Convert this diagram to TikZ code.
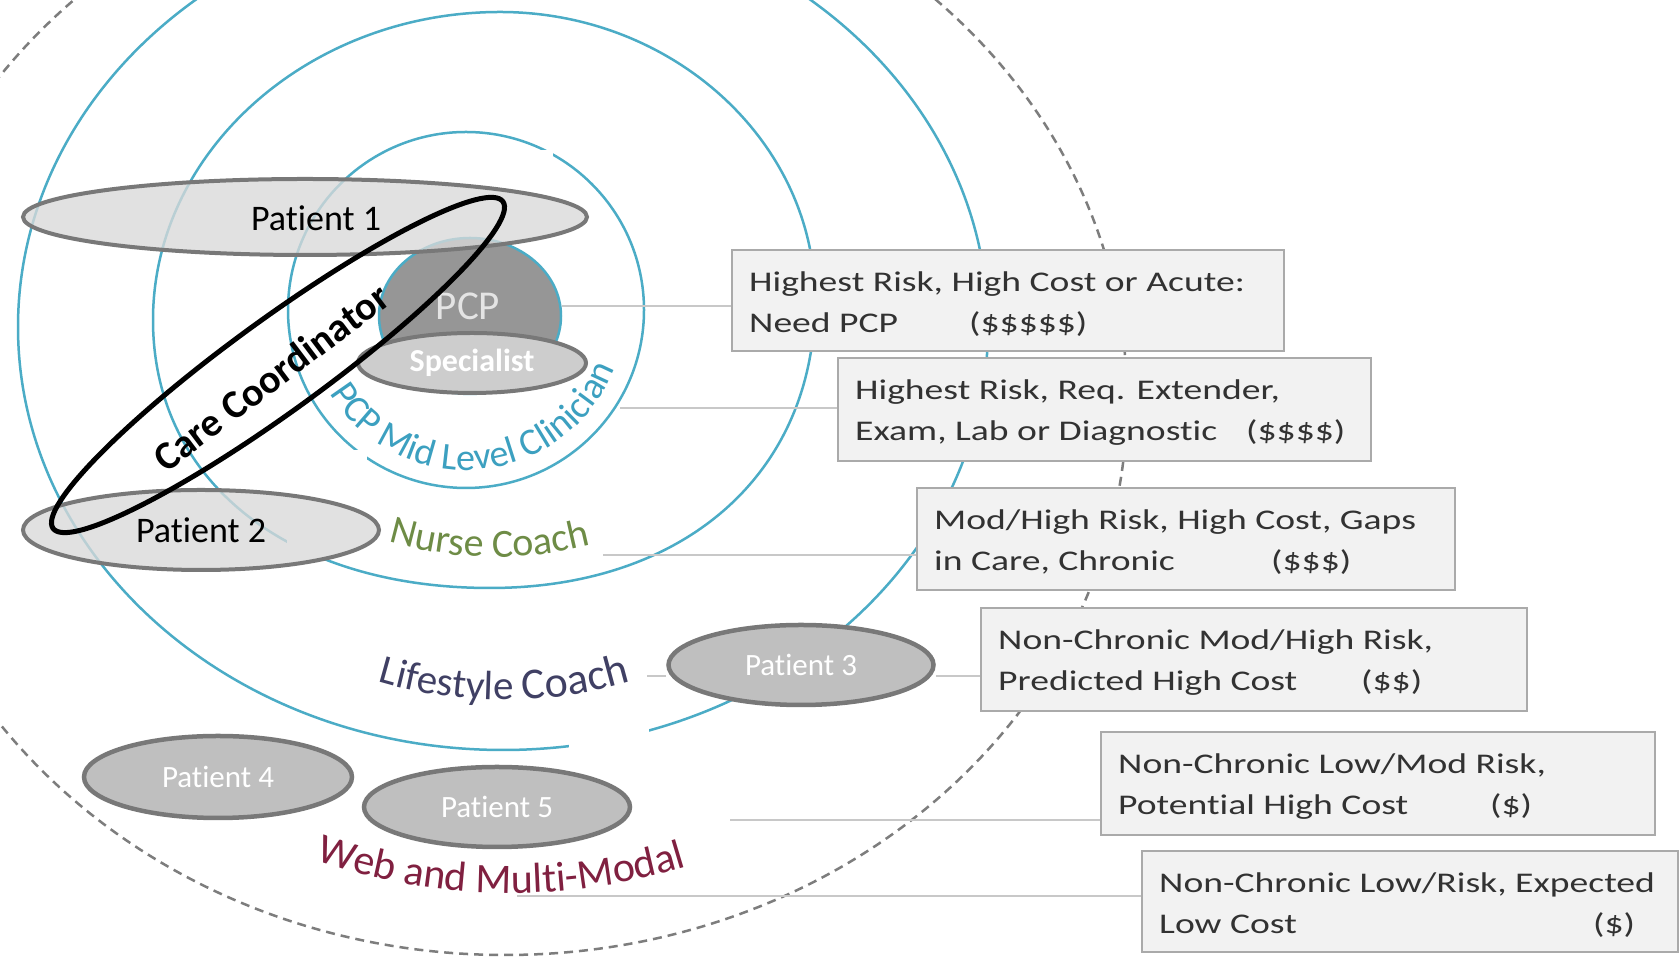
\documentclass[tikz,border=0pt]{standalone}
\usepackage{fontspec}
\setmainfont{Carlito}[Ligatures={NoCommon}]
\newfontfamily\boxfont{Carlito}[FakeStretch=1.32, Ligatures={NoCommon}]
\usetikzlibrary{shapes.geometric,decorations.text}
\pgfdeclarelayer{ringsl}
\pgfdeclarelayer{connl}
\pgfsetlayers{ringsl,connl,main}

\definecolor{ringblue}{RGB}{75,172,198}
\definecolor{dashgray}{RGB}{125,125,125}
\definecolor{linegray}{RGB}{200,200,200}
\definecolor{patlight}{RGB}{217,217,217}
\definecolor{patdark}{RGB}{191,191,191}
\definecolor{patedge}{RGB}{120,120,120}
\definecolor{pcpfill}{RGB}{150,150,150}
\definecolor{pcptext}{RGB}{228,228,228}
\definecolor{specfill}{RGB}{205,205,205}
\definecolor{boxfill}{RGB}{242,242,242}
\definecolor{boxedge}{RGB}{170,170,170}
\definecolor{boxtext}{RGB}{50,50,50}
\definecolor{clinblue}{RGB}{60,160,192}
\definecolor{nurseolive}{RGB}{110,140,70}
\definecolor{lifenavy}{RGB}{64,64,100}
\definecolor{webmaroon}{RGB}{128,32,64}

\begin{document}
\begin{tikzpicture}[x=1pt,y=1pt,
  ring/.style={draw=ringblue, line width=2.5pt},
  conn/.style={draw=linegray, line width=2.4pt},
  patlightbox/.style={ellipse, draw=patedge, line width=4pt, fill=patlight, fill opacity=0.78, text opacity=1, inner sep=0pt, text=black, font=\fontsize{36}{40}\selectfont},
  patdarkbox/.style={ellipse, draw=patedge, line width=4.5pt, fill=patdark, inner sep=0pt, text=white, font=\fontsize{31}{36}\selectfont},
  riskbox/.style={draw=boxedge, line width=2pt, fill=boxfill, anchor=north west, inner sep=0pt},
  risktext/.style={anchor=base west, inner sep=0pt, text=boxtext, font=\boxfont\fontsize{28.5}{34}\selectfont},
  patch/.style={fill=white, draw=none},
]
\useasboundingbox (0,0) rectangle (1679,957);
\clip (0,0) rectangle (1679,957);

\begin{pgfonlayer}{ringsl}
  \clip (0,0) rectangle (1679,957);
  \fill[white] (0,0) rectangle (1679,957);
  \draw[dashgray, line width=2.5pt, dash pattern=on 9pt off 6pt] (505,557) ellipse [x radius=622, y radius=555];
  \draw[ring] (503,630) ellipse [x radius=485, y radius=423];
  \draw[ring] (500,945) .. controls (673,945) and (815,815) .. (815,657)
                        .. controls (815,484) and (685,369) .. (490,369)
                        .. controls (288,369) and (153,476) .. (153,637)
                        .. controls (153,806) and (309,945) .. (500,945) -- cycle;
  \draw[ring] (466,647) circle [radius=178];
\end{pgfonlayer}

\begin{pgfonlayer}{connl}
  \fill[patch] (473,735) rectangle (553,807);
  \fill[patch] (287,397) rectangle (367,507);
  \fill[patch] (569,130) rectangle (649,240);
\end{pgfonlayer}

% PCP
\node[ellipse, draw=ringblue, line width=2.5pt, fill=pcpfill, minimum width=182pt, minimum height=156pt, inner sep=0pt] (pcp) at (470,641) {};
\node[inner sep=0pt, text=pcptext, font=\fontsize{41}{44}\selectfont] (pcpt) at (468,651) {PCP};

% patients
\node[patlightbox, minimum width=564pt, minimum height=76pt] (p1) at (305,740) {};
\node[inner sep=0pt, text=black, font=\fontsize{36}{40}\selectfont] (p1t) at (316,739) {Patient 1};
\node[patlightbox, minimum width=356pt, minimum height=80pt] (p2) at (201,427) {Patient 2};
\node[patdarkbox, minimum width=265pt, minimum height=80pt] (p3) at (801,292) {Patient 3};
\node[patdarkbox, minimum width=268pt, minimum height=82pt] (p4) at (218,180) {Patient 4};
\node[patdarkbox, minimum width=266pt, minimum height=80pt] (p5) at (497,150) {Patient 5};

% specialist
\node[ellipse, draw=patedge, line width=4pt, fill=specfill, minimum width=228pt, minimum height=60pt, inner sep=0pt, text=white, font=\bfseries\fontsize{32}{36}\selectfont] (spec) at (472,594) {Specialist};

% curved labels
\path[decorate, decoration={text along path, text align=center, text color=clinblue,
  text={|\fontsize{38}{40}\selectfont|PCP Mid Level Clinician}}]
  ([shift={(-165:160)}]466,647) arc[start angle=-165, end angle=-5, radius=160];
\path[decorate, decoration={text along path, text align=center, text color=nurseolive,
  text={|\fontsize{40}{42}\selectfont|Nurse Coach}}]
  ([shift={(-130:380)}]496,780) arc[start angle=-130, end angle=-52, radius=380];
\path[decorate, decoration={text along path, text align=center, text color=lifenavy,
  text={|\fontsize{41}{43}\selectfont|Lifestyle |\fontsize{44}{46}\selectfont|Coach}}]
  ([shift={(-125:443)}]504,700) arc[start angle=-125, end angle=-55, radius=443];
\path[decorate, decoration={text along path, text align=center, text color=webmaroon,
  text={|\fontsize{42}{44}\selectfont|Web and Multi-Modal}}]
  ([shift={(-131:598)}]511,662) arc[start angle=-131, end angle=-51, radius=598];

% care coordinator
\node[ellipse, draw=black, line width=5pt, minimum width=556pt, minimum height=92pt, inner sep=0pt, rotate=36] (cc) at (278,592) {};
\node[rotate=37, inner sep=0pt, font=\bfseries\fontsize{40}{43}\selectfont] (cct) at (271,580) {Care Coordinator};

% risk boxes
\node[riskbox, minimum width=552pt, minimum height=101pt] (b1) at (731,708) {};
\node[riskbox, minimum width=533pt, minimum height=103pt] (b2) at (837,600) {};
\node[riskbox, minimum width=538pt, minimum height=102pt] (b3) at (916,470) {};
\node[riskbox, minimum width=546pt, minimum height=103pt] (b4) at (980,350) {};
\node[riskbox, minimum width=554pt, minimum height=103pt] (b5) at (1100,226) {};
\node[riskbox, minimum width=536pt, minimum height=101pt] (b6) at (1141,107) {};

\node[risktext] (b1a) at ([shift={(18,-43)}]b1.north west) {Highest Risk, High Cost or Acute:};
\node[risktext] (b1b) at ([shift={(18,-84)}]b1.north west) {Need PCP};
\node[risktext] (b1c) at ([shift={(238,-84)}]b1.north west) {(\$\$\$\$\$)};
\node[risktext] (b2a) at ([shift={(18,-43)}]b2.north west) {Highest Risk, Req. Extender,};
\node[risktext] (b2b) at ([shift={(18,-84)}]b2.north west) {Exam, Lab or Diagnostic};
\node[risktext] (b2c) at ([shift={(409,-84)}]b2.north west) {(\$\$\$\$)};
\node[risktext] (b3a) at ([shift={(18,-43)}]b3.north west) {Mod/High Risk, High Cost, Gaps};
\node[risktext] (b3b) at ([shift={(18,-84)}]b3.north west) {in Care, Chronic};
\node[risktext] (b3c) at ([shift={(355,-84)}]b3.north west) {(\$\$\$)};
\node[risktext] (b4a) at ([shift={(18,-43)}]b4.north west) {Non-Chronic Mod/High Risk,};
\node[risktext] (b4b) at ([shift={(18,-84)}]b4.north west) {Predicted High Cost};
\node[risktext] (b4c) at ([shift={(381,-84)}]b4.north west) {(\$\$)};
\node[risktext] (b5a) at ([shift={(18,-43)}]b5.north west) {Non-Chronic Low/Mod Risk,};
\node[risktext] (b5b) at ([shift={(18,-84)}]b5.north west) {Potential High Cost};
\node[risktext] (b5c) at ([shift={(390,-84)}]b5.north west) {(\$)};
\node[risktext] (b6a) at ([shift={(18,-43)}]b6.north west) {Non-Chronic Low/Risk, Expected};
\node[risktext] (b6b) at ([shift={(18,-84)}]b6.north west) {Low Cost};
\node[risktext] (b6c) at ([shift={(452,-84)}]b6.north west) {(\$)};

% connectors
\coordinate (c2) at (620,549);
\coordinate (c3) at (603,402);
\coordinate (c4) at (647,281);
\coordinate (c5) at (730,137);
\coordinate (c6) at (517,61);
\begin{pgfonlayer}{connl}
  \draw[conn] (pcpt -| pcp.east) -- (pcpt -| b1.west);
  \draw[conn] (c2) -- (c2 -| b2.west);
  \draw[conn] (c3) -- (c3 -| b3.west);
  \draw[conn] (c4) -- (c4 -| p3.west);
  \draw[conn] (c4 -| p3.east) -- (c4 -| b4.west);
  \draw[conn] (c5) -- (c5 -| b5.west);
  \draw[conn] (c6) -- (c6 -| b6.west);
\end{pgfonlayer}
\end{tikzpicture}
\end{document}
